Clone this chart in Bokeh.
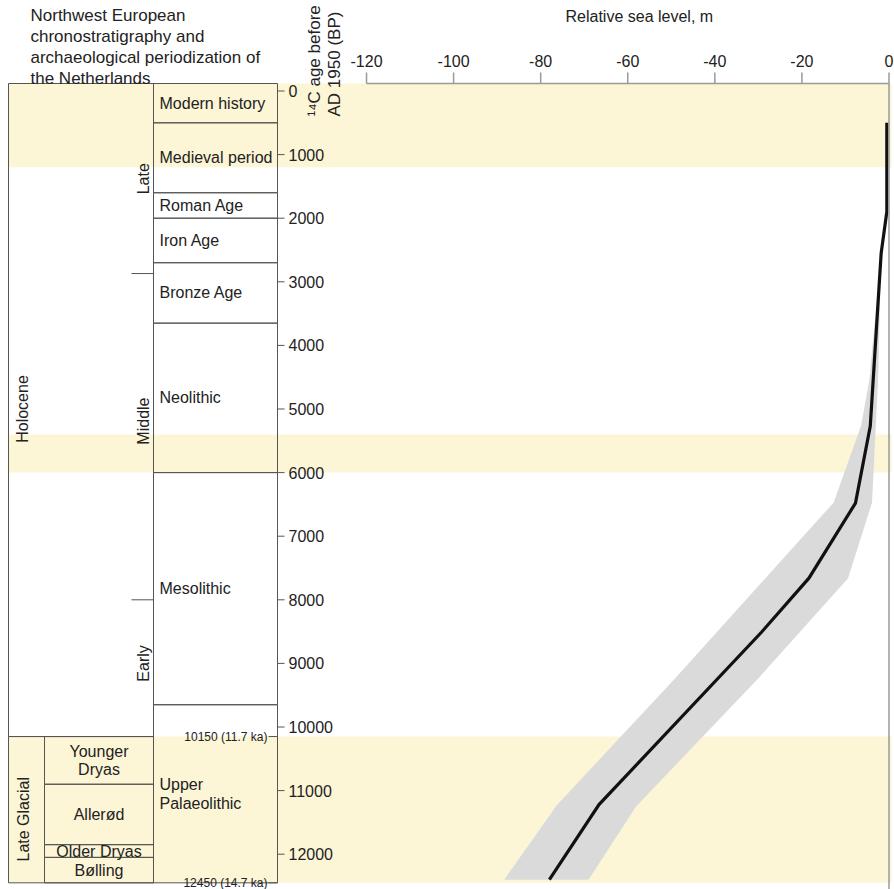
import math
from bokeh.plotting import figure
from bokeh.models import Range1d, Label
from bokeh.core.properties import value
from bokeh.embed import file_html
from bokeh.resources import INLINE

# ---------------- data ----------------
age_ticks = [0, 1000, 2000, 3000, 4000, 5000, 6000, 7000, 8000, 9000, 10000, 11000, 12000]
rsl_ticks = [-120, -100, -80, -60, -40, -20, 0]

# relative sea-level curve (14C age BP, metres)
curve_age = [500, 1900, 2550, 5270, 6480, 7660, 8510, 11220, 12400]
curve_rsl = [-0.5, -0.5, -1.8, -4.3, -7.7, -18.4, -29.3, -66.6, -78.0]

# uncertainty envelope
env_lo_age = [2550, 4540, 5260, 6470, 9240, 11230, 12400]
env_lo_rsl = [-1.8, -4.5, -6.4, -12.7, -49.2, -76.3, -88.4]
env_hi_age = [2550, 4540, 6470, 7660, 9240, 11250, 12400]
env_hi_rsl = [-1.8, -2.5, -3.9, -9.4, -30.1, -58.1, -69.0]

# highlighted intervals (None = open to top of column)
band_top = [None, 5400, 10150]
band_bottom = [1200, 6000, 12450]

# chronostratigraphy
epoch_names = ["Holocene", "Late Glacial"]
epoch_bounds = [None, 10150, 12450]
epoch_label_age = [5000, 11450]

subepoch_names = ["Late", "Middle", "Early"]
subepoch_bounds = [2870, 8000]
subepoch_label_age = [1380, 5190, 9000]

stage_names = ["Younger\nDryas", "Allerød", "Older Dryas", "Bølling"]
stage_bounds = [10150, 10900, 11850, 12050, 12450]

arch_names = ["Modern history", "Medieval period", "Roman Age", "Iron Age",
              "Bronze Age", "Neolithic", "Mesolithic", "Upper\nPalaeolithic"]
arch_bounds = [None, 500, 1600, 2000, 2700, 3650, 6000, 9650, 12450]

marker_ages = [10150, 12450]
marker_texts = ["10150 (11.7 ka)", "12450 (14.7 ka)"]

# ---------------- layout ----------------
FONT = "Liberation Sans"
TXT = "#222222"
LINE = "#555555"
AXC = "#9a9a9a"
YELLOW = "#FCF5D6"

W, H = 894, 889
PANEL_RIGHT = 891
AGE0_PX, PX_PER_YR = 90.5, 0.0636       # vertical scale
RSL0_PX, PX_PER_M = 888.5, 4.354        # horizontal scale of the sea-level panel

def age_at(py):
    return (py - AGE0_PX) / PX_PER_YR

def yrs(px):
    return px / PX_PER_YR

COL_TOP = age_at(83)

p = figure(width=W, height=H,
           x_range=Range1d(-RSL0_PX / PX_PER_M, (W - RSL0_PX) / PX_PER_M),
           y_range=Range1d(age_at(H), age_at(0)),
           x_axis_location=None, y_axis_location=None, min_border=0,
           toolbar_location=None, output_backend="svg", outline_line_color=None)
p.extra_x_ranges["col"] = Range1d(0, W)
p.grid.visible = False
p.background_fill_color = "white"

# yellow bands
btop = [COL_TOP if t is None else t for t in band_top]
p.quad(left=8, right=PANEL_RIGHT, top=btop, bottom=band_bottom, x_range_name="col",
       fill_color=YELLOW, line_color=None)

# sea level envelope + curve
p.patch(env_lo_rsl + env_hi_rsl[::-1], env_lo_age + env_hi_age[::-1],
        fill_color="#dadada", line_color=None)
p.line(curve_rsl, curve_age, line_color="#111111", line_width=3.2, line_join="miter")

# sea-level axis (top) and zero line
p.segment(x0=rsl_ticks[0], x1=rsl_ticks[-1], y0=COL_TOP, y1=COL_TOP,
          line_color=AXC, line_width=1.5)
p.segment(x0=rsl_ticks, x1=rsl_ticks, y0=COL_TOP, y1=COL_TOP - yrs(11),
          line_color=AXC, line_width=1.5)
p.segment(x0=0, x1=0, y0=COL_TOP, y1=age_at(H), line_color=AXC, line_width=1.5)
p.text(x=rsl_ticks, y=COL_TOP - yrs(23), text=[str(t) for t in rsl_ticks],
       text_align="center", text_baseline="middle",
       text_font=value(FONT), text_font_size="16px", text_color=TXT)
p.add_layout(Label(x=565, y=age_at(16), x_range_name="col", text="Relative sea level, m",
                   text_align="left", text_baseline="middle",
                   text_font=FONT, text_font_size="16px", text_color=TXT))

# --- stratigraphic column (x in page pixels via "col" range) ---
X0, X_LG, X_ARCH, X_AX = 8, 44, 153, 277

etop = [COL_TOP if v is None else v for v in epoch_bounds]
p.quad(left=X0, right=X_ARCH, top=etop[:-1], bottom=etop[1:], x_range_name="col",
       fill_alpha=0, line_color=LINE, line_width=1)
p.quad(left=X_LG, right=X_ARCH, top=stage_bounds[:-1], bottom=stage_bounds[1:], x_range_name="col",
       fill_alpha=0, line_color=LINE, line_width=1)
atop = [COL_TOP if v is None else v for v in arch_bounds]
p.quad(left=X_ARCH, right=X_AX, top=atop[:-1], bottom=atop[1:], x_range_name="col",
       fill_alpha=0, line_color=LINE, line_width=1)
p.segment(x0=131, x1=X_ARCH, y0=subepoch_bounds, y1=subepoch_bounds, x_range_name="col",
          line_color=LINE, line_width=1)

p.text(x=[22, 23], y=epoch_label_age, text=epoch_names, x_range_name="col",
       angle=math.pi / 2, text_align="center", text_baseline="middle",
       text_font=value(FONT), text_font_size="16px", text_color=TXT)
p.text(x=143, y=subepoch_label_age, text=subepoch_names, x_range_name="col",
       angle=math.pi / 2, text_align="center", text_baseline="middle",
       text_font=value(FONT), text_font_size="16px", text_color=TXT)
stage_mid = [(a + b) / 2 for a, b in zip(stage_bounds[:-1], stage_bounds[1:])]
p.text(x=(X_LG + X_ARCH) / 2, y=stage_mid, text=stage_names, x_range_name="col",
       text_align="center", text_baseline="middle", text_line_height=1.1,
       text_font=value(FONT), text_font_size="16px", text_color=TXT)
arch_mid = [(a + b) / 2 for a, b in zip(atop[:-1], atop[1:])]
p.text(x=159, y=arch_mid, text=arch_names, x_range_name="col",
       text_align="left", text_baseline="middle", text_line_height=1.1,
       text_font=value(FONT), text_font_size="16px", text_color=TXT)

# age axis (inside the frame)
p.segment(x0=X_AX, x1=284, y0=age_ticks, y1=age_ticks, x_range_name="col",
          line_color=LINE, line_width=1)
p.text(x=288, y=age_ticks, text=[str(a) for a in age_ticks], x_range_name="col",
       text_align="left", text_baseline="middle",
       text_font=value(FONT), text_font_size="16px", text_color=TXT)
p.segment(x0=268, x1=X_AX, y0=marker_ages, y1=marker_ages, x_range_name="col",
          line_color=LINE, line_width=1)
p.text(x=267, y=marker_ages, text=marker_texts, x_range_name="col",
       text_align="right", text_baseline="middle",
       text_font=value(FONT), text_font_size="12px", text_color=TXT)

# titles
p.add_layout(Label(x=30, y=age_at(5), x_range_name="col",
                   text="Northwest European\nchronostratigraphy and\narchaeological periodization of\nthe Netherlands",
                   text_align="left", text_baseline="top", text_line_height=1.12,
                   text_font=FONT, text_font_size="17px", text_color=TXT))
p.add_layout(Label(x=304, y=age_at(116), x_range_name="col",
                   text="¹⁴C age before\nAD 1950 (BP)", angle=math.pi / 2,
                   text_align="left", text_baseline="top", text_line_height=1.1,
                   text_font=FONT, text_font_size="17px", text_color=TXT))

open("out.html", "w").write(file_html(p, INLINE))
